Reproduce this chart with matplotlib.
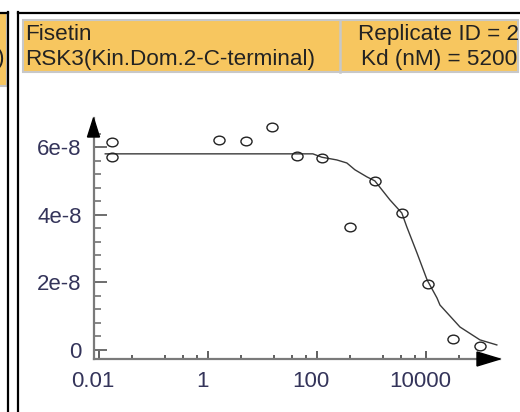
import matplotlib
matplotlib.use("Agg")
import matplotlib.pyplot as plt
import matplotlib.patches as mpatches
import matplotlib.transforms as mtransforms
from matplotlib.lines import Line2D
from matplotlib.path import Path
from matplotlib.ticker import FixedLocator, NullFormatter

plt.rcParams['font.family'] = ['Liberation Sans', 'DejaVu Sans']

# header texts
compound = "Fisetin"
target = "RSK3(Kin.Dom.2-C-terminal)"
replicate = "Replicate ID = 2"
kd_label = "Kd (nM) = 5200"

# measured points (concentration in nM, signal)
conc_nM = [0.017, 0.017, 1.6, 5.0, 14.5, 42, 121, 390, 1130, 3500, 10500, 30500, 95000]
signal = [6.15e-8, 5.71e-8, 6.21e-8, 6.18e-8, 6.60e-8, 5.74e-8, 5.68e-8,
          3.64e-8, 5.00e-8, 4.05e-8, 1.95e-8, 0.33e-8, 0.12e-8]

# fitted curve as drawn
fit_x = [0.013, 83, 121, 228, 348, 488, 809, 1135, 2140, 3540, 4370,
         6710, 10300, 15600, 17700, 41200, 95500, 195000]
fit_y = [5.80e-8, 5.80e-8, 5.70e-8, 5.62e-8, 5.53e-8, 5.33e-8, 5.12e-8, 5.00e-8,
         4.44e-8, 4.05e-8, 3.64e-8, 2.87e-8, 2.07e-8, 1.54e-8, 1.33e-8,
         0.68e-8, 0.30e-8, 0.15e-8]

# axis ticks
xtick_vals = [0.01, 1, 100, 10000]
xtick_labels = ["0.01", "1", "100", "10000"]
xminor_vals = [0.04, 0.16, 0.34, 0.63, 4, 16, 34, 63, 400, 1600, 3400, 6300, 40000]
ytick_vals = [0, 2e-8, 4e-8, 6e-8]
ytick_labels = ["0", "2e-8", "4e-8", "6e-8"]
yminor_vals = [i * 0.4e-8 for i in range(17)]

W, H = 520, 412
ORANGE = '#F7C65F'
LABEL_COLOR = '#34345a'
HEAD_SIZE = 16.2
TICK_SIZE = 16


def fx(x):
    return x / W


def fy(y):
    return 1 - y / H


fig = plt.figure(figsize=(W / 100, H / 100), dpi=100)
fig.patch.set_facecolor('white')

# panel frames and header boxes
fig.patches.append(mpatches.Rectangle((fx(-2), fy(86)), fx(9), 73 / H, transform=fig.transFigure,
                                      facecolor=ORANGE, edgecolor='#c4c4c4', linewidth=1.5))
fig.patches.append(mpatches.Rectangle((fx(23), fy(72)), fx(495), 52 / H, transform=fig.transFigure,
                                      facecolor=ORANGE, edgecolor='#c8c8c8', linewidth=1.5))
frame_lines = [
    ([fx(7.5), fx(7.5)], [fy(12), fy(415)], 1.6, 'black'),
    ([fx(0), fx(7.5)], [fy(12.5), fy(12.5)], 1.6, 'black'),
    ([fx(18), fx(18)], [fy(12), fy(415)], 1.6, 'black'),
    ([fx(18), fx(521)], [fy(12.5), fy(12.5)], 1.6, 'black'),
    ([fx(340), fx(340)], [fy(20), fy(72)], 1.8, '#c8c8c8'),
]
for xs, ys, lw, col in frame_lines:
    fig.lines.append(Line2D(xs, ys, transform=fig.transFigure, linewidth=lw, color=col))

# tail of the neighbouring panel's header text
fig.text(fx(-3), fy(64), ")", fontsize=HEAD_SIZE, color='#222', va='baseline', ha='left')
fig.text(fx(25), fy(40), compound, fontsize=HEAD_SIZE, color='#222', va='baseline', ha='left')
fig.text(fx(25), fy(65), target, fontsize=HEAD_SIZE, color='#222', va='baseline', ha='left')
fig.text(fx(438), fy(40), replicate, fontsize=HEAD_SIZE, color='#222', va='baseline', ha='center')
fig.text(fx(439), fy(65), kd_label, fontsize=HEAD_SIZE, color='#222', va='baseline', ha='center')

# plot area
ax = fig.add_axes([fx(93.5), fy(359), (500 - 93.5) / W, (359 - 118) / H])
ax.set_xscale('log')
ax.set_xlim(0.00792, 2.23e5)
ax.set_ylim(-0.266e-8, 6.86e-8)

ellipse = Path.unit_circle().transformed(mtransforms.Affine2D().scale(1, 0.78))
ax.plot(fit_x, fit_y, color='#3a3a3a', linewidth=1.0, zorder=2)
ax.plot(conc_nM, signal, linestyle='none', marker=ellipse, markersize=8,
        markerfacecolor='none', markeredgecolor='#222', markeredgewidth=1.0, zorder=3)

for side in ['top', 'right']:
    ax.spines[side].set_visible(False)
for side in ['left', 'bottom']:
    ax.spines[side].set_color('#7a7a7a')
    ax.spines[side].set_linewidth(1.6)

ax.xaxis.set_major_locator(FixedLocator(xtick_vals))
ax.xaxis.set_minor_locator(FixedLocator(xminor_vals))
ax.xaxis.set_major_formatter(NullFormatter())
ax.xaxis.set_minor_formatter(NullFormatter())
ax.yaxis.set_major_locator(FixedLocator(ytick_vals))
ax.yaxis.set_minor_locator(FixedLocator(yminor_vals))
ax.set_yticklabels(ytick_labels)

ax.tick_params(axis='x', which='major', direction='in', length=6, width=1.2, color='#444')
ax.tick_params(axis='x', which='minor', direction='in', length=3, width=1.2, color='#444')
ax.tick_params(axis='y', which='major', direction='in', length=9, width=1.2, color='#555',
               labelsize=TICK_SIZE, labelcolor=LABEL_COLOR, pad=8.5)
ax.tick_params(axis='y', which='minor', direction='in', length=5, width=1.1, color='#666')

# x labels sit slightly left of their ticks in the original
label_shift = mtransforms.ScaledTranslation(-6 / 100, -12 / 100, fig.dpi_scale_trans)
for v, s in zip(xtick_vals, xtick_labels):
    ax.text(v, 0, s, transform=ax.get_xaxis_transform() + label_shift,
            ha='center', va='top', fontsize=TICK_SIZE, color=LABEL_COLOR, clip_on=False)

# arrow heads at the ends of both axes
x_head = fig.dpi_scale_trans + mtransforms.ScaledTranslation(1, 0, ax.transAxes)
ax.add_patch(mpatches.Polygon([(0, 0), (-0.23, 0.07), (-0.23, -0.07)], closed=True,
                              transform=x_head, facecolor='black', edgecolor='black',
                              clip_on=False, zorder=5))
y_head = fig.dpi_scale_trans + mtransforms.ScaledTranslation(0, 1, ax.transAxes)
ax.add_patch(mpatches.Polygon([(0, 0), (-0.06, -0.19), (0.06, -0.19)], closed=True,
                              transform=y_head, facecolor='black', edgecolor='black',
                              clip_on=False, zorder=5))

fig.savefig('out.png', dpi=100)
